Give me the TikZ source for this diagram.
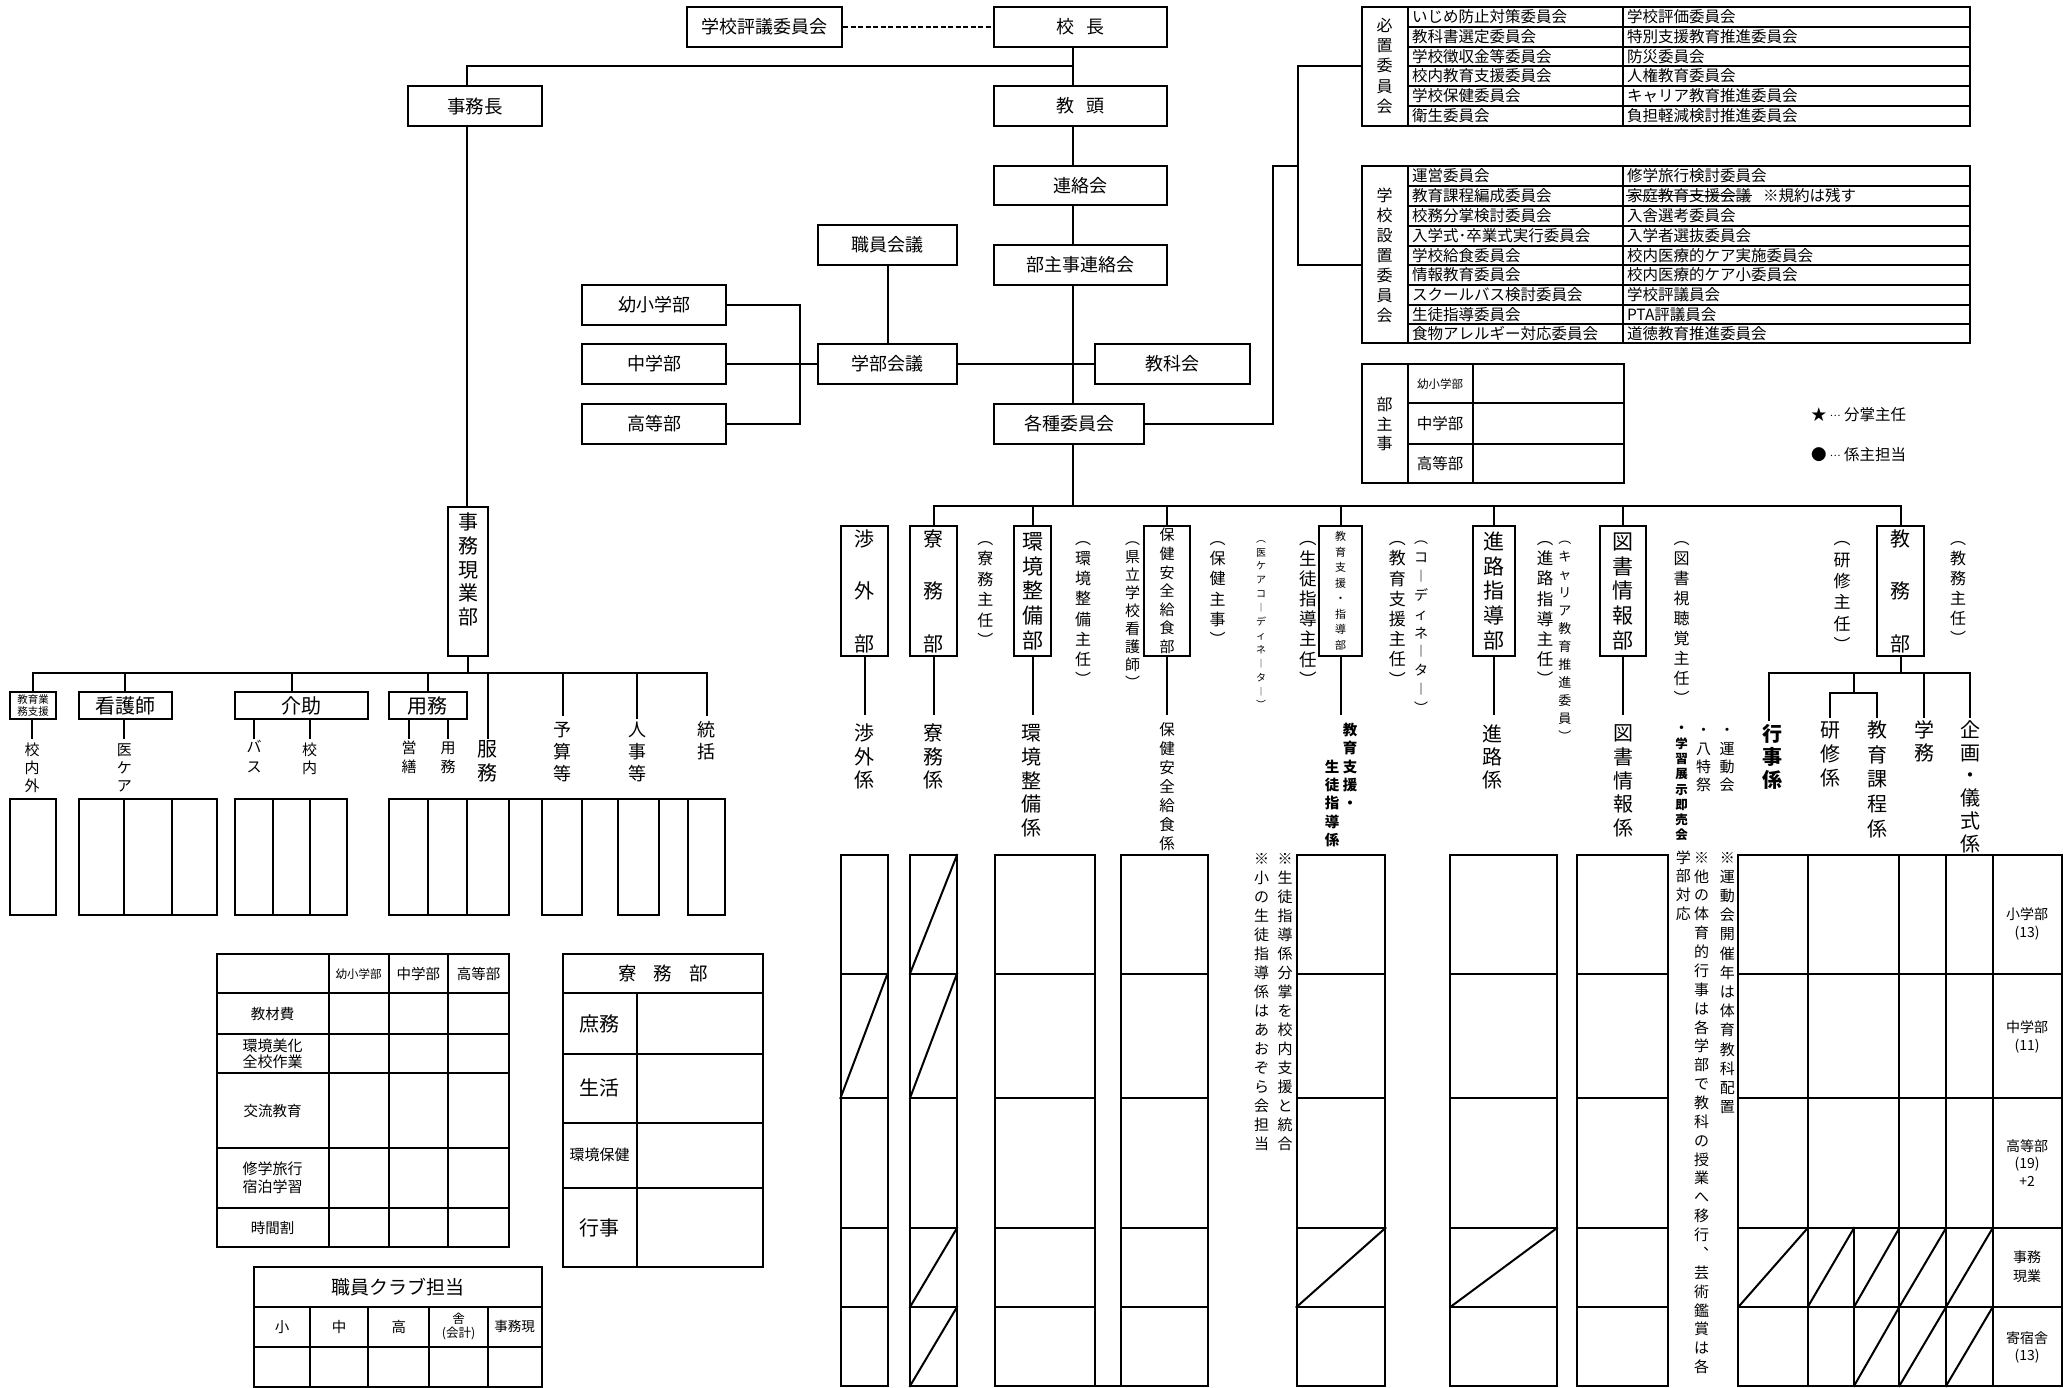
\documentclass[tikz,border=0pt]{standalone}
\usepackage{fontspec}
\setmainfont{Noto Sans CJK JP}
\newcommand\fz[2]{\fontsize{#1}{#2}\selectfont}
\newcommand\vtitem[1]{\hbox to 1em{\hss#1\hss}\vrule height .88em depth .12em width 0pt}
\ExplSyntaxOn
\NewDocumentCommand \vt { m }
 {
  \vbox
   {
    \lineskiplimit=-\maxdimen
    \tl_map_inline:nn {#1} { \hbox { \vtitem {##1} } }
   }
 }
\ExplSyntaxOff
\newcommand\myell{\raisebox{.3em}{\fontsize{10}{10}\selectfont …}}
\tikzset{
  box/.style={draw, line width=2pt, inner sep=0pt, align=center},
  vtx/.style={inner sep=0pt, align=center},
  cell/.style={anchor=west, inner sep=0pt, font=\fz{15.5}{17}},
  ctext/.style={inner sep=0pt, align=center},
  frame/.style={draw, line width=2pt, inner sep=0pt},
}
% name, font, x1, y1, x2, y2, text
\newcommand\bx[7]{%
  \pgfmathsetmacro\bw{#5-#3}\pgfmathsetmacro\bh{#6-#4}%
  \node[box, font=#2, minimum width=\bw pt, minimum height=\bh pt] (#1) at ({(#3+#5)/2},{(#4+#6)/2}) {#7};}
\newcommand\fr[5]{%
  \pgfmathsetmacro\bw{#4-#2}\pgfmathsetmacro\bh{#5-#3}%
  \node[frame, minimum width=\bw pt, minimum height=\bh pt] (#1) at ({(#2+#4)/2},{(#3+#5)/2}) {};}
\begin{document}
\begin{tikzpicture}[x=1pt,y=-1pt,line width=2pt,line cap=rect]
\useasboundingbox (0,0) rectangle (2071,1387);

% ---------- top chain ----------
\bx{hyogi}{\fz{18}{20}}{687}{7}{842}{47}{学校評議委員会}
\bx{kocho}{\fz{18}{20}}{994}{7}{1167}{47}{校\hspace{12pt}長}
\bx{kyoto}{\fz{18}{20}}{994}{86}{1167}{126}{教\hspace{12pt}頭}
\bx{renraku}{\fz{18}{20}}{994}{166}{1167}{205}{連絡会}
\bx{bushuji}{\fz{18}{20}}{994}{245}{1167}{285}{部主事連絡会}
\bx{kakushu}{\fz{18}{20}}{994}{404}{1144}{444}{各種委員会}
\bx{shokuin}{\fz{18}{20}}{818}{225}{957}{265}{職員会議}
\bx{gakubu}{\fz{18}{20}}{818}{344}{957}{384}{学部会議}
\bx{kyoka}{\fz{18}{20}}{1095}{344}{1250}{384}{教科会}
\bx{yosho}{\fz{18}{20}}{582}{285}{726}{325}{幼小学部}
\bx{chu}{\fz{18}{20}}{582}{344}{726}{384}{中学部}
\bx{koto}{\fz{18}{20}}{582}{404}{726}{444}{高等部}
\bx{jimucho}{\fz{18.5}{20}}{408}{86}{542}{126}{事務長}

\coordinate (tx) at (1073,0);
\coordinate (jx) at (467,66);
\draw[dashed, line width=1.5pt, dash pattern=on 5pt off 2.5pt, line cap=butt] (hyogi.east) -- (kocho.west);
\draw (kocho.south -| tx) -- (kyoto.north -| tx);
\draw (jimucho.north -| jx) -- (jx) -- (jx -| tx);
\draw (kyoto.south -| tx) -- (renraku.north -| tx);
\draw (renraku.south -| tx) -- (bushuji.north -| tx);
\draw (bushuji.south -| tx) -- (kakushu.north -| tx);
\draw (shokuin.south) -- (gakubu.north);
\draw (gakubu.east) -- (kyoka.west);
\coordinate (bk) at (800,364);
\draw (yosho.east) -| (bk) |- (koto.east);
\draw (chu.east) -- (gakubu.west);

% ---------- committee tables ----------
\fr{hitchi}{1361.5}{6.7}{1970}{125.7}
\draw (1407.5,6.7) -- (1407.5,125.7) (1622.6,6.7) -- (1622.6,125.7);
\foreach \y in {26.7,46.7,66,86,105.7} \draw (1407.5,\y) -- (1970,\y);
\node[vtx, font=\fz{16}{20.4}] (hitchilab) at (1384.5,65.8) {\vt{必置委員会}};
\foreach \y/\a/\b in {16.7/いじめ防止対策委員会/学校評価委員会,
  36.7/教科書選定委員会/特別支援教育推進委員会,
  56.3/学校徴収金等委員会/防災委員会,
  76/校内教育支援委員会/人権教育委員会,
  95.8/学校保健委員会/キャリア教育推進委員会,
  115.7/衛生委員会/負担軽減検討推進委員会}
 { \node[cell] at (1411,\y) {\a}; \node[cell] at (1626,\y) {\b}; }

\fr{setchi}{1361.5}{165.7}{1970}{343.3}
\draw (1407.5,165.7) -- (1407.5,343.3) (1622.6,165.7) -- (1622.6,343.3);
\foreach \y in {185.7,205.7,225.7,245.7,265,285,305,324.3} \draw (1407.5,\y) -- (1970,\y);
\node[vtx, font=\fz{16}{20}] (setchilab) at (1384.5,255) {\vt{学校設置委員会}};
\foreach \y/\a/\b in {175.7/運営委員会/修学旅行検討委員会,
  215.7/校務分掌検討委員会/入舎選考委員会,
  235.7/入学式･卒業式実行委員会/入学者選抜委員会,
  255.3/学校給食委員会/校内医療的ケア実施委員会,
  275/情報教育委員会/校内医療的ケア小委員会,
  295/スクールバス検討委員会/学校評議員会,
  314.7/生徒指導委員会/PTA評議員会,
  333.8/食物アレルギー対応委員会/道徳教育推進委員会}
 { \node[cell] at (1411,\y) {\a}; \node[cell] at (1626,\y) {\b}; }
\node[cell] at (1411,195.7) {教育課程編成委員会};
\node[cell] (katei) at (1626,195.7) {家庭教育支援会議};
\draw[line width=1pt, line cap=butt] (katei.west) -- (katei.east);
\node[cell] at ([xshift=10pt]katei.east) {※規約は残す};

\coordinate (c1) at (1273,166);
\coordinate (cb1) at (1298,66);
\coordinate (cb2) at (1298,265);
\draw (kakushu.east) -| (c1) -- (c1 -| cb1);
\draw (hitchi.west |- cb1) -- (cb1) -- (cb2) -- (setchi.west |- cb2);

% ---------- bushuji table & legend ----------
\fr{bstab}{1361.5}{364}{1623.6}{483.3}
\draw (1407.5,364) -- (1407.5,483.3) (1472.8,364) -- (1472.8,483.3);
\draw (1407.5,403.3) -- (1623.6,403.3) (1407.5,444) -- (1623.6,444);
\node[vtx, font=\fz{16}{19.2}] at (1384.5,424) {\vt{部主事}};
\node[ctext, font=\fz{11.5}{13}] at (1440,383.7) {幼小学部};
\node[ctext, font=\fz{15.5}{17}] at (1440,423.7) {中学部};
\node[ctext, font=\fz{15.5}{17}] at (1440,463.7) {高等部};
\node[anchor=west, inner sep=0pt, font=\fz{15.5}{17}] (leg1) at (1810,415) {★ \myell\ 分掌主任};
\node[anchor=west, inner sep=0pt, font=\fz{15.5}{17}] (leg2) at (1810,455) {● \myell\ 係主担当};

% ---------- 事務現業部 ----------
\bx{genba}{\fz{20}{23.75}}{448}{507}{488}{656}{\vt{事務現業部{}}}
\draw (jimucho.south -| jx) -- (genba.north -| jx);
\coordinate (gb) at (468,673);
\draw (genba.south) -- (gb);
\bx{shien}{\fz{10.5}{12.5}}{10}{692}{56}{719}{教育業\\務支援}
\bx{kango}{\fz{20}{22}}{78.6}{692}{171.6}{719}{看護師}
\bx{kaijo}{\fz{20}{22}}{235}{692}{367.7}{719}{介助}
\bx{yomu}{\fz{20}{22}}{388.6}{692}{466.7}{719}{用務}
\coordinate (e_fuku) at (487.6,738);
\coordinate (e_yosan) at (562.7,715);
\coordinate (e_jinji) at (637.3,718);
\coordinate (e_tokatsu) at (706.5,715);
\draw (gb) -| (shien.north);
\draw (gb) -| (kango.north);
\draw (gb) -| ([xshift=-9.4pt]kaijo.north);
\draw (gb) -| (yomu.north);
\draw (gb) -| (e_fuku);
\draw (gb) -| (e_yosan);
\draw (gb) -| (e_jinji);
\draw (gb) -| (e_tokatsu);
\coordinate (k0) at (32,738);
\coordinate (k1) at (254,738);
\coordinate (k2) at (309.5,738);
\coordinate (y1) at (409,738);
\coordinate (y2) at (448,738);
\coordinate (kn) at (124.4,738);
\draw (shien.south -| k0) -- (k0);
\draw (kango.south -| kn) -- (kn);
\draw (kaijo.south -| k1) -- (k1);
\draw (kaijo.south -| k2) -- (k2);
\draw (yomu.south -| y1) -- (y1);
\draw (yomu.south -| y2) -- (y2);
\node[vtx, font=\fz{15}{18}] at (32,768) {\vt{校内外}};
\node[vtx, font=\fz{15}{18}] at (124.4,768) {\vt{医ケア}};
\node[vtx, font=\fz{15}{20.3}] at (254,756.9) {\vt{バス}};
\node[vtx, font=\fz{15}{18}] at (309.5,759) {\vt{校内}};
\node[vtx, font=\fz{15}{19}] at (409,757.5) {\vt{営繕}};
\node[vtx, font=\fz{15}{19}] at (448,757.5) {\vt{用務}};
\node[vtx, font=\fz{20}{24}] at (487.6,761) {\vt{服務}};
\node[vtx, font=\fz{18}{21.7}] at (562.7,751.7) {\vt{予算等}};
\node[vtx, font=\fz{18}{21.7}] at (637.3,751.7) {\vt{人事等}};
\node[vtx, font=\fz{18}{21.7}] at (706.5,740.8) {\vt{統括}};

% bottom-left boxes
\draw (10,799) rectangle (56,915);
\draw (78.6,799) rectangle (217.4,915) (124.4,799) -- (124.4,915) (171.6,799) -- (171.6,915);
\draw (235,799) rectangle (347,915) (273,799) -- (273,915) (309.5,799) -- (309.5,915);
\draw (388.6,799) -- (725,799);
\foreach \x in {388.6,428.4,466.7,508.5,541.8,582,618.4,659.2,688,725} \draw (\x,799) -- (\x,915);
\draw (388.6,915) -- (508.5,915) (541.8,915) -- (582,915) (618.4,915) -- (659.2,915) (688,915) -- (725,915);

% ---------- bottom-left tables ----------
\draw (216.6,954) rectangle (509,1247.3);
\foreach \y in {993.3,1034,1073.3,1148.3,1207.7} \draw (216.6,\y) -- (509,\y);
\foreach \x in {328.7,388.7,447.9} \draw (\x,954) -- (\x,1247.3);
\node[ctext, font=\fz{11.5}{13}] at (358.7,973.7) {幼小学部};
\node[ctext, font=\fz{14.5}{16}] at (418.3,973.7) {中学部};
\node[ctext, font=\fz{14.5}{16}] at (478.5,973.7) {高等部};
\node[ctext, font=\fz{14.5}{16}] at (272.6,1013.7) {教材費};
\node[ctext, font=\fz{15}{16}] at (272.6,1053.7) {環境美化\\全校作業};
\node[ctext, font=\fz{14.5}{16}] at (272.6,1110.8) {交流教育};
\node[ctext, font=\fz{15}{18.3}] at (272.6,1178) {修学旅行\\宿泊学習};
\node[ctext, font=\fz{14.5}{16}] at (272.6,1227.5) {時間割};

\draw (562.6,954) rectangle (763,1267.3);
\draw (562.6,993.3) -- (763,993.3);
\draw (636.5,993.3) -- (636.5,1267.3);
\foreach \y in {1054,1122.7,1187.7} \draw (562.6,\y) -- (763,\y);
\node[ctext, font=\fz{18.5}{20}] at (662.8,973.7) {寮\hspace{17pt}務\hspace{17pt}部};
\node[ctext, font=\fz{20}{22}] at (599.5,1023.7) {庶務};
\node[ctext, font=\fz{20}{22}] at (599.5,1088.3) {生活};
\node[ctext, font=\fz{15}{17}] at (599.5,1155.2) {環境保健};
\node[ctext, font=\fz{20}{22}] at (599.5,1227.5) {行事};

\draw (253.6,1266.7) rectangle (541.5,1386.7);
\draw (253.6,1306.7) -- (541.5,1306.7) (253.6,1346.7) -- (541.5,1346.7);
\foreach \x in {310.2,368.3,429.4,487.8} \draw (\x,1306.7) -- (\x,1386.7);
\node[ctext, font=\fz{19}{21}] at (397.5,1286.7) {職員クラブ担当};
\node[ctext, font=\fz{14.5}{16}] at (282,1326.7) {小};
\node[ctext, font=\fz{14.5}{16}] at (339.2,1326.7) {中};
\node[ctext, font=\fz{14.5}{16}] at (398.8,1326.7) {高};
\node[ctext, font=\fz{12.5}{14}] at (458.6,1326.7) {舎\\(会計)};
\node[ctext, font=\fz{13.5}{15}] at (514.6,1326.7) {事務現};

% ---------- departments ----------
\coordinate (bar) at (0,506);
\draw (kakushu.south -| tx) -- (bar -| tx);
\bx{shogai}{\fz{20}{52.5}}{841}{526}{888}{656}{\vt{渉外部}}
\bx{ryomu}{\fz{20}{52.5}}{910}{526}{957}{656}{\vt{寮務部}}
\bx{kankyo}{\fz{21}{24.6}}{1014}{526}{1051}{656}{\vt{環境整備部}}
\bx{hoken}{\fz{15}{18.6}}{1144}{526}{1190}{656}{\vt{保健安全給食部}}
\bx{kyoiku}{\fz{11}{15.5}}{1319}{526}{1362}{656}{\vt{教育支援・指導部}}
\bx{shinro}{\fz{21}{24.6}}{1473}{526}{1515}{656}{\vt{進路指導部}}
\bx{tosho}{\fz{21}{24.6}}{1600}{526}{1646}{656}{\vt{図書情報部}}
\bx{kyomu}{\fz{20}{52.5}}{1877}{526}{1924}{656}{\vt{教務部}}
\draw (ryomu.north) -- (ryomu.north |- bar) -- (kyomu.north |- bar) -- (kyomu.north);
\foreach \n in {kankyo,hoken,kyoiku,shinro,tosho} \draw (\n.north) -- (\n.north |- bar);
\coordinate (lb) at (0,714);
\foreach \n in {shogai,ryomu,kankyo,hoken,kyoiku,shinro,tosho} \draw (\n.south) -- (\n.south |- lb);

% parenthesised notes
\node[vtx, font=\fz{16}{20.5}] at (985.4,589.6) {\vt{︵寮務主任︶}};
\node[vtx, font=\fz{16}{20.2}] at (1083,609) {\vt{︵環境整備主任︶}};
\node[vtx, font=\fz{15}{18.1}] at (1132.5,610.7) {\vt{︵県立学校看護師︶}};
\node[vtx, font=\fz{16}{20.3}] at (1217.5,589) {\vt{︵保健主事︶}};
\node[vtx, font=\fz{10}{13.9}] at (1261,621.7) {\vt{︵医ケアコ︱ディネ︱タ︱︶}};
\node[vtx, font=\fz{17.5}{20.2}] at (1308.5,609) {\vt{︵生徒指導主任︶}};
\node[vtx, font=\fz{17}{20.2}] at (1397.4,609) {\vt{︵教育支援主任︶}};
\node[vtx, font=\fz{14}{18.9}] at (1421,623.3) {\vt{︵コ︱ディネ︱タ︱︶}};
\node[vtx, font=\fz{16.5}{20.2}] at (1545,609) {\vt{︵進路指導主任︶}};
\node[vtx, font=\fz{13}{18}] at (1564.9,637.3) {\vt{︵キャリア教育推進委員︶}};
\node[vtx, font=\fz{16}{20}] at (1681.7,618.3) {\vt{︵図書視聴覚主任︶}};
\node[vtx, font=\fz{17}{21.3}] at (1842,591.6) {\vt{︵研修主任︶}};
\node[vtx, font=\fz{16}{20}] at (1958,588.3) {\vt{︵教務主任︶}};

% section labels
\node[vtx, font=\fz{20}{23.5}] at (864.5,756.5) {\vt{渉外係}};
\node[vtx, font=\fz{20}{23.5}] at (933.6,756.5) {\vt{寮務係}};
\node[vtx, font=\fz{20}{23.75}] at (1031.7,780.5) {\vt{環境整備係}};
\node[vtx, font=\fz{15.5}{18.9}] at (1167,786.7) {\vt{保健安全給食係}};
\node[vtx, font=\fz{14.5}{18.3}\bfseries] at (1350,766.6) {\vt{教育支援・}};
\node[vtx, font=\fz{14.5}{18.3}\bfseries] at (1332,803.3) {\vt{生徒指導係}};
\node[vtx, font=\fz{20}{23.3}] at (1492.4,756.7) {\vt{進路係}};
\node[vtx, font=\fz{20}{23.75}] at (1623,780.5) {\vt{図書情報係}};
\node[vtx, font=\fz{12.5}{15.3}\bfseries] at (1681.7,781.6) {\vt{・学習展示即売会}};
\node[vtx, font=\fz{15}{18.3}] at (1703.5,757.5) {\vt{・八特祭}};
\node[vtx, font=\fz{15}{18.3}] at (1727.2,757.5) {\vt{・運動会}};

% 教務部 subtree
\coordinate (kb) at (0,673);
\coordinate (g1) at (1769,720);
\coordinate (g2) at (1854,692.7);
\coordinate (g3a) at (1830,716.7);
\coordinate (g3b) at (1877,716.7);
\coordinate (g4) at (1924,716.7);
\coordinate (g5) at (1970,716.7);
\draw (kyomu.south) -- (kyomu.south |- kb);
\draw (g1) |- (kyomu.south |- kb) -| (g5);
\draw (g2 |- kb) -- (g2);
\draw (g3a) -- (g3a |- g2) -- (g3b |- g2) -- (g3b);
\draw (g4 |- kb) -- (g4);
\node[vtx, font=\fz{20}{23.3}\bfseries] at (1772.8,756.7) {\vt{行事係}};
\node[vtx, font=\fz{20}{24}] at (1830,754.2) {\vt{研修係}};
\node[vtx, font=\fz{20}{24.6}] at (1877,779.2) {\vt{教育課程係}};
\node[vtx, font=\fz{20}{23.3}] at (1924,741.7) {\vt{学務}};
\node[vtx, font=\fz{20}{22.7}] at (1970,786.7) {\vt{企画・儀式係}};

% ---------- bottom grid ----------
\foreach \a/\b in {840.5/887.5,910/957,994.7/1095,1120.8/1207.6,1296.5/1385.4,1450.3/1557,1576.8/1668.3}
 { \draw (\a,855) rectangle (\b,1386);
   \foreach \y in {973.6,1098,1228,1307} \draw (\a,\y) -- (\b,\y); }
\draw (1095,1386) -- (1120.8,1386);
\draw (840.5,1098) -- (887.5,973.6);
\draw (910,973.6) -- (957,855) (910,1098) -- (957,973.6) (910,1307) -- (957,1228) (910,1386) -- (957,1307);
\draw (1296.5,1307) -- (1385.4,1228);
\draw (1450.3,1307) -- (1557,1228);

\draw (1738.3,855) rectangle (2061.7,1386);
\foreach \y in {973.6,1098,1228,1307} \draw (1738.3,\y) -- (2061.7,\y);
\foreach \x in {1807.7,1899.3,1946,1992.7} \draw (\x,855) -- (\x,1386);
\draw (1854,1228) -- (1854,1386);
\draw (1738.3,1307) -- (1807.7,1228) (1807.7,1307) -- (1854,1228) (1854,1307) -- (1899.3,1228)
      (1899.3,1307) -- (1946,1228) (1946,1307) -- (1992.7,1228);
\draw (1854,1386) -- (1899.3,1307) (1899.3,1386) -- (1946,1307) (1946,1386) -- (1992.7,1307);
\node[ctext, font=\fz{14}{17.5}] at (2027.2,923.7) {小学部\\(13)};
\node[ctext, font=\fz{14}{17.5}] at (2027.2,1037) {中学部\\(11)};
\node[ctext, font=\fz{14}{17.5}] at (2027.2,1162.7) {高等部\\(19)\\+2};
\node[ctext, font=\fz{14}{19}] at (2027.2,1266.5) {事務\\現業};
\node[ctext, font=\fz{14}{17.5}] at (2027.2,1347.7) {寄宿舎\\(13)};

% grid notes
\node[vtx, font=\fz{15}{18.96}] at (1285,1001.4) {\vt{※生徒指導係分掌を校内支援と統合}};
\node[vtx, font=\fz{15}{18.96}] at (1261.5,1001.4) {\vt{※小の生徒指導係はあおぞら会担当}};
\node[vtx, font=\fz{15}{19.2}] at (1727.3,982.2) {\vt{※運動会開催年は体育教科配置}};
\node[vtx, font=\fz{15}{18.87}] at (1701.7,1112.2) {\vt{※他の体育的行事は各学部で教科の授業へ移行︑芸術鑑賞は各}};
\node[vtx, font=\fz{15}{18.87}] at (1683.3,885.7) {\vt{学部対応}};
\end{tikzpicture}
\end{document}
